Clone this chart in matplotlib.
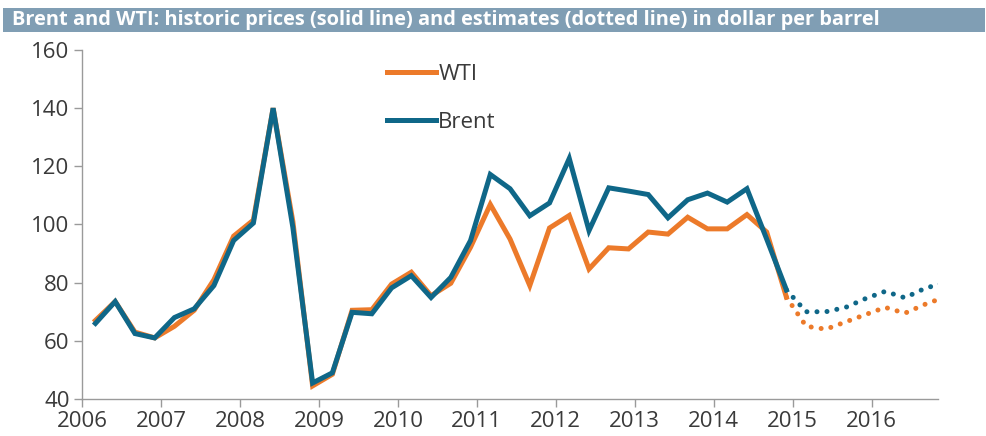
import numpy as np
import matplotlib
matplotlib.use("Agg")
import matplotlib.pyplot as plt
from matplotlib.patches import Rectangle

# quarterly averages, 2006 Q1 - 2014 Q4 (USD per barrel)
brent_hist = [66, 73.5, 62.5, 61,
              68, 71, 79, 94.5,
              100.5, 140, 99, 45.5,
              49, 69.8, 69.3, 78.2,
              82.4, 74.9, 81.8, 94.5,
              117.2, 112.3, 103, 107.4,
              122.7, 97.9, 112.6, 111.5,
              110.3, 102.3, 108.5, 110.8,
              107.7, 112.3, 95, 77.5]
wti_hist = [67, 73.5, 63, 61,
            65, 70.5, 81, 96,
            101.5, 140, 101, 44.5,
            48.5, 70.5, 70.7, 79.5,
            83.6, 75.5, 79.8, 92.2,
            106.9, 95, 79, 98.8,
            103.1, 84.7, 92, 91.6,
            97.4, 96.7, 102.5, 98.5,
            98.5, 103.4, 97.4, 75]

# estimates, 2014 Q4 - 2016 Q4
brent_est = [77.5, 70, 70, 71.5, 74.5, 77, 74.8, 78, 80]
wti_est = [75, 65, 64, 66.5, 69, 71.5, 69.5, 72.5, 75]

years = list(range(2006, 2017))
yticks = [40, 60, 80, 100, 120, 140, 160]

t_hist = 2006.17 + 0.25 * np.arange(len(brent_hist))
t_est = t_hist[-1] + 0.25 * np.arange(len(brent_est))

ORANGE = "#EC7A2A"
BLUE = "#0F6788"
GREY = "#9A9A9A"
TXT = "#3A3A3A"

plt.rcParams["font.family"] = ["Open Sans", "DejaVu Sans"]

fig = plt.figure(figsize=(9.87, 4.36), dpi=100)
ax = fig.add_axes([0.0831, 0.0849, 0.8673, 0.8004])

lw = 3.6
ax.plot(t_hist, wti_hist, color=ORANGE, lw=lw, solid_joinstyle="miter", label="WTI")
ax.plot(t_hist, brent_hist, color=BLUE, lw=lw, solid_joinstyle="miter", label="Brent")
ax.plot(t_est, wti_est, color=ORANGE, lw=lw, linestyle=(0, (0.01, 2.0)),
        dash_capstyle="round")
ax.plot(t_est, brent_est, color=BLUE, lw=lw, linestyle=(0, (0.01, 2.0)),
        dash_capstyle="round")

ax.set_xlim(2006, 2016.84)
ax.set_ylim(40, 160)
ax.set_xticks(years)
ax.set_yticks(yticks)
ax.tick_params(axis="both", direction="out", length=6, width=1, color=GREY,
               labelsize=16, labelcolor=TXT, pad=3)
for s in ("top", "right"):
    ax.spines[s].set_visible(False)
for s in ("left", "bottom"):
    ax.spines[s].set_color(GREY)
    ax.spines[s].set_linewidth(1)

leg = ax.legend(loc="upper left", bbox_to_anchor=(0.346, 0.985), frameon=False,
                fontsize=16, handlelength=2.2, handletextpad=0.1,
                labelspacing=1.2, borderaxespad=0)
for txt in leg.get_texts():
    txt.set_color(TXT)

# title bar
fig.patches.append(Rectangle((3 / 987, 1 - 32 / 436), 982 / 987, 24 / 436,
                             transform=fig.transFigure, facecolor="#809EB4",
                             edgecolor="none"))
fig.text(12 / 987, 1 - 20 / 436,
         "Brent and WTI: historic prices (solid line) and estimates (dotted line) in dollar per barrel",
         color="white", fontsize=14.4, fontweight="bold", va="center", ha="left")

fig.savefig("out.png", dpi=100)
